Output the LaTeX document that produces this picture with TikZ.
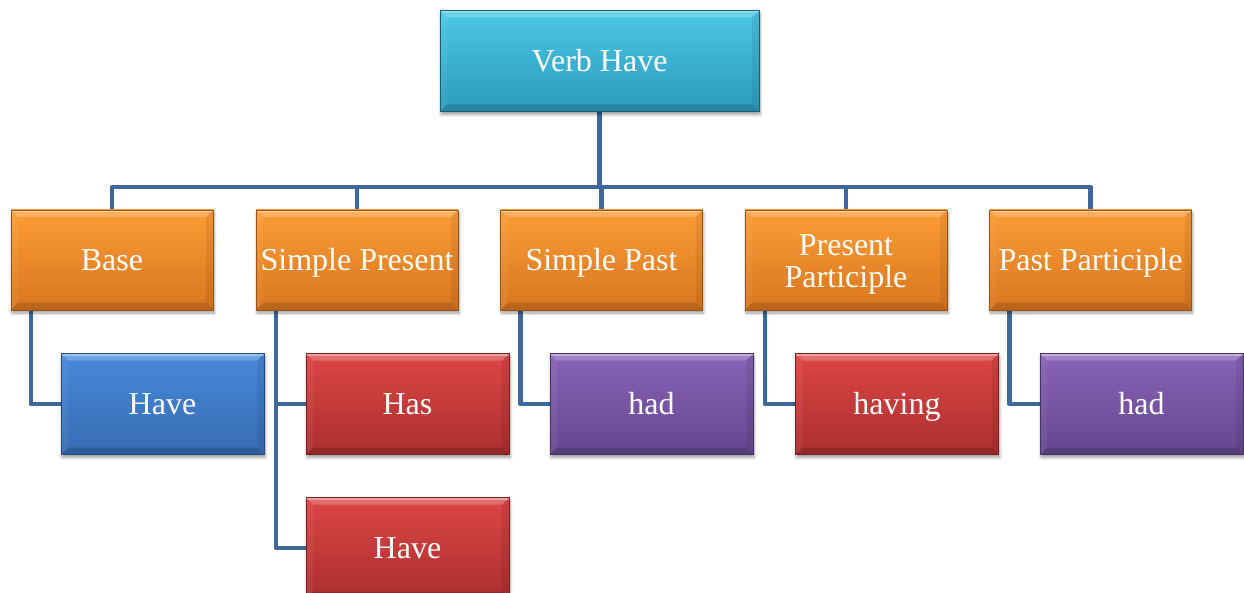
\documentclass[tikz,border=0pt]{standalone}
\usepackage{fontspec}
\setmainfont{Liberation Serif}
\usetikzlibrary{shadows.blur,backgrounds}

\definecolor{linkblue}{HTML}{3F679A}
\definecolor{cyanT}{HTML}{4CC7E6}
\definecolor{cyanB}{HTML}{2B9BBC}
\definecolor{orangeT}{HTML}{FB9D36}
\definecolor{orangeB}{HTML}{D9761F}
\definecolor{blueT}{HTML}{4789DA}
\definecolor{blueB}{HTML}{376CB2}
\definecolor{redT}{HTML}{DC4645}
\definecolor{redB}{HTML}{AC2F2F}
\definecolor{purpleT}{HTML}{8763B5}
\definecolor{purpleB}{HTML}{654790}

\tikzset{
  conn/.style={draw=linkblue, line width=4.5pt, line join=round},
  bevel/.style={path picture={
    % top highlight band
    \fill[white,opacity=0.22]
      (path picture bounding box.north west) -- (path picture bounding box.north east)
      -- ([xshift=-7pt,yshift=-7pt]path picture bounding box.north east)
      -- ([xshift=7pt,yshift=-7pt]path picture bounding box.north west) -- cycle;
    \fill[white,opacity=0.35]
      (path picture bounding box.north west) rectangle ([yshift=-2pt]path picture bounding box.north east);
    % bottom dark band
    \fill[black,opacity=0.15]
      (path picture bounding box.south west) -- (path picture bounding box.south east)
      -- ([xshift=-7pt,yshift=7pt]path picture bounding box.south east)
      -- ([xshift=7pt,yshift=7pt]path picture bounding box.south west) -- cycle;
    % side bands
    \fill[white,opacity=0.05]
      (path picture bounding box.north west) -- ([xshift=7pt,yshift=-7pt]path picture bounding box.north west)
      -- ([xshift=7pt,yshift=7pt]path picture bounding box.south west)
      -- (path picture bounding box.south west) -- cycle;
    \fill[black,opacity=0.07]
      (path picture bounding box.north east) -- ([xshift=-7pt,yshift=-7pt]path picture bounding box.north east)
      -- ([xshift=-7pt,yshift=7pt]path picture bounding box.south east)
      -- (path picture bounding box.south east) -- cycle;
  }},
  box/.style={rectangle, bevel, text=white, align=center,
    font=\fontsize{32}{32}\selectfont, text height=21pt, text depth=0pt,
    minimum width=203pt, minimum height=101pt, inner sep=2pt,
    blur shadow={shadow xshift=1pt, shadow yshift=-3pt, shadow blur radius=3pt,
      shadow blur steps=6, shadow opacity=40}},
  topbox/.style={box, top color=cyanT, bottom color=cyanB, draw=cyanB!60!black, line width=0.4pt, minimum width=319pt},
  catbox/.style={box, top color=orangeT, bottom color=orangeB, draw=orangeB!70!black, line width=0.4pt, minimum width=202pt, minimum height=100pt},
  bluebox/.style={box, top color=blueT, bottom color=blueB, draw=blueB!70!black, line width=0.4pt},
  redbox/.style={box, top color=redT, bottom color=redB, draw=redB!70!black, line width=0.4pt},
  purplebox/.style={box, top color=purpleT, bottom color=purpleB, draw=purpleB!70!black, line width=0.4pt},
}

\begin{document}
\begin{tikzpicture}[x=1pt, y=-1pt]
  \useasboundingbox (0,0) rectangle (1244,593);
  \clip (0,0) rectangle (1244,593);

  % root
  \node[topbox] (root) at (599.5,61) {Verb Have};

  % categories
  \node[catbox] (base)  at (112,260)   {Base};
  \node[catbox] (spres) at (357,260)   {Simple Present};
  \node[catbox] (spast) at (601.5,260) {Simple Past};
  \node[catbox, text height=55pt] (ppres) at (846,260) {Present\\Participle};
  \node[catbox] (ppast) at (1090.5,260){Past Participle};

  % forms
  \node[bluebox]   (fbase)  at (162.5,404) {Have};
  \node[redbox]    (fhas)   at (407.5,404) {Has};
  \node[redbox]    (fhave)  at (407.5,548) {Have};
  \node[purplebox] (fhad)   at (651.5,404) {had};
  \node[redbox]    (fhav)   at (897,404)   {having};
  \node[purplebox] (fhadpp) at (1141.5,404){had};

  % connectors, beneath the boxes
  \begin{scope}[on background layer]
    \coordinate (bus) at (599.5,187);
    \foreach \c in {base,spres,spast,ppres,ppast}
      \draw[conn] (root.south) -- (bus) -| (\c.north);
    \draw[conn] ([xshift=20pt]base.south west)  |- (fbase.west);
    \draw[conn] ([xshift=20pt]spres.south west) |- (fhas.west);
    \draw[conn] ([xshift=20pt]spres.south west) |- (fhave.west);
    \draw[conn] ([xshift=20pt]spast.south west) |- (fhad.west);
    \draw[conn] ([xshift=20pt]ppres.south west) |- (fhav.west);
    \draw[conn] ([xshift=20pt]ppast.south west) |- (fhadpp.west);
  \end{scope}
\end{tikzpicture}
\end{document}
